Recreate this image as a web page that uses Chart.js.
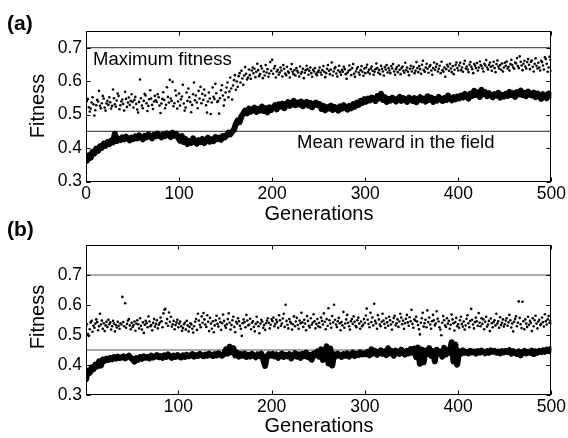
<!DOCTYPE html>
<html>
<head>
<meta charset="utf-8">
<script src="https://cdn.jsdelivr.net/npm/chart.js@4.4.1/dist/chart.umd.min.js"></script>
<style>
  html, body { margin: 0; padding: 0; background: #fff; }
  #wrap { position: relative; width: 568px; height: 438px; overflow: hidden; }
  canvas { position: absolute; left: 0; }
</style>
</head>
<body>
<div id="wrap">
  <canvas id="chartA" width="568" height="232" style="top:0"></canvas>
  <canvas id="chartB" width="568" height="219" style="top:219px"></canvas>
</div>
<script>
// tick labels
const xTicksA = [0, 100, 200, 300, 400, 500];
const xTicksB = [100, 200, 300, 400, 500];
const yTicks = [0.3, 0.4, 0.5, 0.6, 0.7];

// reference levels
const maxFitnessLevel = 0.7;
const meanRewardLevel = 0.45;

// (a) best individual per generation, generations 1..500
const maxFitA = [
  0.541, 0.547, 0.522, 0.509, 0.518, 0.536, 0.552, 0.531, 0.497, 0.513, 0.528, 0.544, 0.539, 0.571, 0.526, 0.519, 0.534, 0.556, 0.548, 0.521, 0.512, 0.533, 0.541, 0.529, 0.552,
  0.537, 0.518, 0.526, 0.575, 0.549, 0.531, 0.524, 0.542, 0.563, 0.556, 0.516, 0.528, 0.539, 0.545, 0.532, 0.512, 0.568, 0.547, 0.523, 0.536, 0.551, 0.529, 0.541, 0.561, 0.538,
  0.521, 0.544, 0.553, 0.532, 0.515, 0.506, 0.538, 0.605, 0.549, 0.527, 0.519, 0.541, 0.562, 0.557, 0.534, 0.511, 0.526, 0.546, 0.573, 0.548, 0.529, 0.517, 0.539, 0.556, 0.543,
  0.538, 0.561, 0.552, 0.527, 0.505, 0.533, 0.547, 0.567, 0.544, 0.519, 0.529, 0.582, 0.553, 0.536, 0.604, 0.548, 0.541, 0.598, 0.525, 0.534, 0.572, 0.557, 0.518, 0.539, 0.563,
  0.527, 0.546, 0.554, 0.589, 0.533, 0.512, 0.521, 0.566, 0.541, 0.578, 0.552, 0.538, 0.507, 0.529, 0.561, 0.596, 0.543, 0.557, 0.536, 0.519, 0.571, 0.548, 0.583, 0.534, 0.562,
  0.544, 0.575, 0.557, 0.528, 0.506, 0.539, 0.566, 0.548, 0.502, 0.536, 0.581, 0.553, 0.547, 0.592, 0.564, 0.538, 0.541, 0.503, 0.549, 0.573, 0.588, 0.557, 0.527, 0.544, 0.566,
  0.581, 0.596, 0.552, 0.569, 0.611, 0.578, 0.545, 0.587, 0.603, 0.618, 0.574, 0.599, 0.583, 0.615, 0.624, 0.596, 0.631, 0.608, 0.589, 0.617, 0.642, 0.622, 0.605, 0.611, 0.635,
  0.618, 0.607, 0.632, 0.641, 0.624, 0.637, 0.612, 0.628, 0.652, 0.633, 0.615, 0.621, 0.645, 0.638, 0.609, 0.629, 0.617, 0.648, 0.626, 0.636, 0.613, 0.623, 0.657, 0.631, 0.664,
  0.622, 0.638, 0.645, 0.611, 0.629, 0.634, 0.619, 0.626, 0.641, 0.632, 0.614, 0.648, 0.637, 0.623, 0.618, 0.643, 0.629, 0.625, 0.611, 0.636, 0.651, 0.628, 0.621, 0.633, 0.617,
  0.639, 0.631, 0.626, 0.614, 0.644, 0.622, 0.628, 0.637, 0.609, 0.625, 0.633, 0.646, 0.636, 0.619, 0.631, 0.641, 0.624, 0.613, 0.634, 0.629, 0.639, 0.622, 0.618, 0.627, 0.632,
  0.641, 0.626, 0.619, 0.633, 0.645, 0.628, 0.612, 0.624, 0.637, 0.648, 0.631, 0.621, 0.635, 0.656, 0.617, 0.629, 0.638, 0.642, 0.623, 0.614, 0.632, 0.646, 0.627, 0.619, 0.634,
  0.628, 0.643, 0.636, 0.621, 0.607, 0.625, 0.631, 0.647, 0.634, 0.618, 0.639, 0.651, 0.622, 0.613, 0.629, 0.637, 0.642, 0.626, 0.619, 0.633, 0.645, 0.628, 0.616, 0.638, 0.624,
  0.641, 0.649, 0.627, 0.634, 0.622, 0.638, 0.644, 0.631, 0.619, 0.628, 0.636, 0.653, 0.639, 0.625, 0.633, 0.621, 0.646, 0.637, 0.629, 0.617, 0.642, 0.635, 0.648, 0.626, 0.639,
  0.632, 0.624, 0.645, 0.638, 0.651, 0.629, 0.619, 0.636, 0.642, 0.627, 0.647, 0.634, 0.621, 0.639, 0.644, 0.631, 0.625, 0.655, 0.633, 0.641, 0.628, 0.618, 0.637, 0.646, 0.629,
  0.638, 0.643, 0.624, 0.631, 0.657, 0.639, 0.627, 0.645, 0.636, 0.622, 0.649, 0.661, 0.633, 0.628, 0.641, 0.652, 0.637, 0.625, 0.644, 0.648, 0.632, 0.619, 0.639, 0.656, 0.634,
  0.643, 0.651, 0.629, 0.637, 0.646, 0.624, 0.658, 0.633, 0.628, 0.641, 0.613, 0.636, 0.649, 0.644, 0.631, 0.652, 0.638, 0.627, 0.645, 0.621, 0.634, 0.648, 0.656, 0.639, 0.632,
  0.647, 0.655, 0.633, 0.641, 0.628, 0.652, 0.661, 0.638, 0.644, 0.635, 0.627, 0.649, 0.657, 0.643, 0.636, 0.624, 0.651, 0.646, 0.639, 0.654, 0.632, 0.641, 0.659, 0.648, 0.645,
  0.638, 0.629, 0.652, 0.647, 0.663, 0.641, 0.635, 0.649, 0.656, 0.643, 0.631, 0.646, 0.658, 0.639, 0.627, 0.651, 0.662, 0.644, 0.637, 0.648, 0.634, 0.653, 0.629, 0.641, 0.655,
  0.646, 0.659, 0.638, 0.643, 0.632, 0.651, 0.664, 0.648, 0.641, 0.637, 0.656, 0.653, 0.669, 0.645, 0.639, 0.674, 0.658, 0.647, 0.633, 0.652, 0.661, 0.644, 0.638, 0.657, 0.666,
  0.649, 0.636, 0.658, 0.662, 0.643, 0.629, 0.652, 0.668, 0.646, 0.638, 0.655, 0.641, 0.632, 0.661, 0.657, 0.647, 0.635, 0.671, 0.666, 0.652, 0.628, 0.641, 0.673, 0.664, 0.631
];

// (a) population mean, generations 1,3,5..499
const meanA = [
  0.362, 0.378, 0.371, 0.389, 0.384, 0.398, 0.392, 0.405, 0.401, 0.413, 0.407, 0.418, 0.412, 0.422, 0.417, 0.443, 0.421, 0.428, 0.424, 0.432, 0.426, 0.434, 0.429, 0.423, 0.431,
  0.427, 0.435, 0.429, 0.438, 0.431, 0.426, 0.436, 0.432, 0.441, 0.434, 0.429, 0.439, 0.435, 0.443, 0.437, 0.432, 0.441, 0.436, 0.444, 0.438, 0.433, 0.446, 0.437, 0.442, 0.431,
  0.422, 0.436, 0.418, 0.427, 0.412, 0.421, 0.416, 0.429, 0.419, 0.413, 0.424, 0.418, 0.427, 0.415, 0.422, 0.431, 0.419, 0.426, 0.421, 0.433, 0.427, 0.431, 0.425, 0.436, 0.432,
  0.438, 0.446, 0.441, 0.449, 0.455, 0.472, 0.483, 0.478, 0.495, 0.503, 0.512, 0.504, 0.518, 0.509, 0.515, 0.521, 0.508, 0.517, 0.512, 0.524, 0.511, 0.519, 0.507, 0.522, 0.514,
  0.521, 0.528, 0.516, 0.531, 0.524, 0.533, 0.519, 0.529, 0.537, 0.526, 0.534, 0.541, 0.528, 0.536, 0.531, 0.539, 0.525, 0.533, 0.538, 0.527, 0.535, 0.522, 0.531, 0.536, 0.528,
  0.531, 0.517, 0.526, 0.513, 0.522, 0.518, 0.527, 0.514, 0.523, 0.519, 0.512, 0.525, 0.518, 0.528, 0.521, 0.515, 0.526, 0.519, 0.531, 0.524, 0.536, 0.529, 0.541, 0.535, 0.546,
  0.539, 0.548, 0.543, 0.551, 0.546, 0.541, 0.555, 0.549, 0.562, 0.544, 0.552, 0.538, 0.547, 0.542, 0.551, 0.545, 0.539, 0.548, 0.553, 0.541, 0.549, 0.544, 0.538, 0.551, 0.546,
  0.541, 0.549, 0.537, 0.546, 0.552, 0.543, 0.548, 0.539, 0.555, 0.544, 0.551, 0.538, 0.547, 0.542, 0.553, 0.546, 0.541, 0.549, 0.544, 0.557, 0.548, 0.543, 0.552, 0.546, 0.554,
  0.549, 0.557, 0.551, 0.562, 0.555, 0.548, 0.563, 0.556, 0.571, 0.559, 0.566, 0.553, 0.574, 0.561, 0.567, 0.555, 0.564, 0.558, 0.552, 0.561, 0.557, 0.565, 0.551, 0.559, 0.554,
  0.562, 0.556, 0.568, 0.559, 0.564, 0.553, 0.567, 0.561, 0.572, 0.558, 0.565, 0.555, 0.569, 0.561, 0.557, 0.566, 0.552, 0.563, 0.558, 0.547, 0.561, 0.556, 0.549, 0.563, 0.557
];

// (b) best individual per generation, generations 1..500
const maxFitB = [
  0.528, 0.536, 0.503, 0.497, 0.519, 0.542, 0.547, 0.511, 0.531, 0.524, 0.538, 0.552, 0.543, 0.516, 0.529, 0.571, 0.535, 0.548, 0.521, 0.539, 0.513, 0.532, 0.544, 0.527, 0.551,
  0.536, 0.542, 0.518, 0.529, 0.547, 0.538, 0.512, 0.533, 0.525, 0.544, 0.531, 0.521, 0.539, 0.535, 0.627, 0.543, 0.529, 0.606, 0.524, 0.537, 0.548, 0.553, 0.532, 0.519, 0.541,
  0.527, 0.533, 0.545, 0.514, 0.538, 0.549, 0.536, 0.522, 0.556, 0.531, 0.518, 0.542, 0.507, 0.534, 0.547, 0.539, 0.526, 0.562, 0.545, 0.529, 0.533, 0.516, 0.541, 0.553, 0.528,
  0.537, 0.549, 0.522, 0.534, 0.541, 0.558, 0.546, 0.526, 0.572, 0.584, 0.587, 0.539, 0.553, 0.531, 0.575, 0.544, 0.561, 0.528, 0.536, 0.547, 0.519, 0.533, 0.542, 0.551, 0.526,
  0.538, 0.545, 0.529, 0.514, 0.523, 0.536, 0.541, 0.518, 0.547, 0.532, 0.512, 0.527, 0.539, 0.535, 0.521, 0.508, 0.529, 0.544, 0.553, 0.517, 0.571, 0.548, 0.534, 0.526, 0.562,
  0.541, 0.573, 0.552, 0.535, 0.527, 0.566, 0.544, 0.513, 0.557, 0.538, 0.521, 0.546, 0.509, 0.532, 0.549, 0.564, 0.537, 0.528, 0.555, 0.543, 0.517, 0.539, 0.568, 0.547, 0.531,
  0.524, 0.536, 0.553, 0.572, 0.541, 0.518, 0.533, 0.549, 0.561, 0.527, 0.509, 0.544, 0.538, 0.556, 0.546, 0.531, 0.521, 0.497, 0.539, 0.552, 0.543, 0.526, 0.567, 0.548, 0.532,
  0.535, 0.554, 0.519, 0.541, 0.546, 0.527, 0.512, 0.537, 0.561, 0.543, 0.529, 0.506, 0.538, 0.551, 0.545, 0.524, 0.533, 0.517, 0.539, 0.548, 0.556, 0.541, 0.522, 0.534, 0.552,
  0.546, 0.558, 0.529, 0.537, 0.551, 0.543, 0.524, 0.566, 0.549, 0.531, 0.538, 0.555, 0.571, 0.527, 0.601, 0.547, 0.534, 0.522, 0.553, 0.544, 0.539, 0.518, 0.536, 0.562, 0.529,
  0.545, 0.557, 0.533, 0.521, 0.548, 0.539, 0.574, 0.542, 0.527, 0.551, 0.538, 0.516, 0.563, 0.547, 0.531, 0.525, 0.556, 0.534, 0.541, 0.569, 0.546, 0.522, 0.537, 0.553, 0.529,
  0.541, 0.526, 0.558, 0.547, 0.535, 0.572, 0.544, 0.519, 0.553, 0.531, 0.589, 0.549, 0.538, 0.524, 0.563, 0.542, 0.601, 0.551, 0.535, 0.527, 0.546, 0.557, 0.539, 0.516, 0.543,
  0.532, 0.577, 0.524, 0.538, 0.552, 0.567, 0.541, 0.529, 0.518, 0.546, 0.553, 0.537, 0.562, 0.544, 0.531, 0.526, 0.549, 0.558, 0.538, 0.521, 0.545, 0.529, 0.534, 0.553, 0.541,
  0.565, 0.588, 0.551, 0.537, 0.526, 0.574, 0.543, 0.558, 0.532, 0.604, 0.547, 0.539, 0.521, 0.566, 0.552, 0.535, 0.529, 0.544, 0.571, 0.548, 0.537, 0.524, 0.556, 0.542, 0.531,
  0.561, 0.549, 0.535, 0.518, 0.543, 0.557, 0.564, 0.532, 0.539, 0.552, 0.527, 0.545, 0.571, 0.558, 0.536, 0.548, 0.521, 0.539, 0.554, 0.567, 0.542, 0.531, 0.559, 0.546, 0.584,
  0.537, 0.524, 0.552, 0.548, 0.561, 0.545, 0.533, 0.519, 0.502, 0.541, 0.556, 0.574, 0.528, 0.539, 0.551, 0.526, 0.582, 0.543, 0.558, 0.535, 0.521, 0.546, 0.567, 0.549, 0.532,
  0.538, 0.579, 0.554, 0.545, 0.526, 0.518, 0.499, 0.541, 0.563, 0.549, 0.532, 0.527, 0.556, 0.538, 0.547, 0.521, 0.534, 0.568, 0.552, 0.539, 0.515, 0.543, 0.557, 0.529, 0.536,
  0.524, 0.549, 0.561, 0.537, 0.528, 0.545, 0.518, 0.532, 0.554, 0.566, 0.539, 0.526, 0.547, 0.587, 0.551, 0.535, 0.522, 0.543, 0.558, 0.546, 0.531, 0.573, 0.541, 0.529, 0.556,
  0.537, 0.552, 0.519, 0.544, 0.561, 0.528, 0.535, 0.547, 0.513, 0.555, 0.539, 0.526, 0.543, 0.549, 0.532, 0.571, 0.538, 0.546, 0.524, 0.559, 0.533, 0.541, 0.552, 0.528, 0.536,
  0.548, 0.556, 0.531, 0.542, 0.567, 0.549, 0.525, 0.538, 0.512, 0.544, 0.553, 0.562, 0.529, 0.541, 0.612, 0.557, 0.536, 0.523, 0.611, 0.546, 0.519, 0.552, 0.538, 0.527, 0.561,
  0.534, 0.547, 0.541, 0.513, 0.556, 0.529, 0.549, 0.564, 0.538, 0.522, 0.545, 0.551, 0.533, 0.537, 0.558, 0.543, 0.528, 0.569, 0.546, 0.535, 0.552, 0.563, 0.541, 0.548, 0.539
];

// (b) population mean, generations 1,3,5..499
const meanB = [
  0.352, 0.381, 0.374, 0.392, 0.386, 0.401, 0.395, 0.412, 0.398, 0.418, 0.414, 0.421, 0.417, 0.424, 0.419, 0.426, 0.421, 0.428, 0.423, 0.425, 0.429, 0.422, 0.427, 0.431, 0.424,
  0.419, 0.411, 0.423, 0.418, 0.426, 0.421, 0.429, 0.424, 0.427, 0.422, 0.431, 0.425, 0.428, 0.433, 0.426, 0.430, 0.424, 0.432, 0.427, 0.435, 0.429, 0.424, 0.431, 0.427, 0.433,
  0.428, 0.425, 0.432, 0.427, 0.434, 0.429, 0.431, 0.436, 0.428, 0.433, 0.430, 0.437, 0.432, 0.429, 0.435, 0.431, 0.438, 0.433, 0.430, 0.436, 0.432, 0.439, 0.434, 0.431, 0.437,
  0.452, 0.438, 0.461, 0.443, 0.456, 0.432, 0.441, 0.428, 0.436, 0.431, 0.438, 0.427, 0.434, 0.429, 0.437, 0.431, 0.426, 0.435, 0.430, 0.438, 0.418, 0.397, 0.429, 0.436, 0.431,
  0.437, 0.429, 0.435, 0.424, 0.433, 0.438, 0.427, 0.434, 0.429, 0.436, 0.422, 0.433, 0.439, 0.428, 0.435, 0.424, 0.437, 0.430, 0.441, 0.426, 0.434, 0.418, 0.438, 0.432, 0.445,
  0.428, 0.452, 0.417, 0.441, 0.462, 0.405, 0.455, 0.398, 0.436, 0.429, 0.438, 0.432, 0.427, 0.436, 0.431, 0.439, 0.428, 0.434, 0.441, 0.430, 0.437, 0.433, 0.442, 0.435, 0.439,
  0.436, 0.444, 0.432, 0.452, 0.438, 0.447, 0.434, 0.441, 0.449, 0.437, 0.445, 0.433, 0.456, 0.439, 0.446, 0.431, 0.448, 0.442, 0.437, 0.451, 0.441, 0.435, 0.447, 0.439, 0.453,
  0.441, 0.455, 0.426, 0.458, 0.404, 0.452, 0.409, 0.448, 0.437, 0.456, 0.431, 0.446, 0.412, 0.451, 0.439, 0.444, 0.428, 0.457, 0.435, 0.449, 0.441, 0.476, 0.412, 0.468, 0.401,
  0.446, 0.437, 0.449, 0.441, 0.444, 0.439, 0.447, 0.442, 0.445, 0.438, 0.446, 0.441, 0.448, 0.443, 0.439, 0.446, 0.441, 0.449, 0.444, 0.447, 0.441, 0.445, 0.439, 0.446, 0.442,
  0.447, 0.443, 0.449, 0.438, 0.446, 0.441, 0.437, 0.445, 0.432, 0.443, 0.447, 0.439, 0.444, 0.441, 0.448, 0.436, 0.445, 0.441, 0.447, 0.443, 0.449, 0.444, 0.451, 0.446, 0.453
];

const FONT = "'Liberation Sans', Arial, Helvetica, sans-serif";
Chart.defaults.font.family = FONT;
Chart.defaults.color = '#000';

// frame, inward tick marks and free text
const decor = {
  id: 'decor',
  afterDraw(chart, args, opts) {
    const { ctx, chartArea: a, scales: { x, y } } = chart;
    ctx.save();
    ctx.strokeStyle = '#000';
    ctx.lineWidth = 1;
    const L = Math.round(a.left) + 0.5, R = Math.round(a.right) - 0.5;
    const T = Math.round(a.top) + 0.5, B = Math.round(a.bottom) - 0.5;
    ctx.strokeRect(L, T, R - L, B - T);
    ctx.beginPath();
    x.ticks.forEach(t => {
      const px = Math.round(x.getPixelForValue(t.value)) + 0.5;
      ctx.moveTo(px, T); ctx.lineTo(px, T + 4);
      ctx.moveTo(px, B); ctx.lineTo(px, B - 4);
    });
    y.ticks.forEach(t => {
      const py = Math.round(y.getPixelForValue(t.value)) + 0.5;
      ctx.moveTo(L, py); ctx.lineTo(L + 4, py);
      ctx.moveTo(R, py); ctx.lineTo(R - 4, py);
    });
    ctx.stroke();
    ctx.fillStyle = '#000';
    (opts.texts || []).forEach(t => {
      ctx.save();
      ctx.font = t.font;
      ctx.textAlign = t.align || 'left';
      ctx.textBaseline = t.baseline || 'alphabetic';
      ctx.translate(t.x, t.y);
      if (t.rot) ctx.rotate(t.rot);
      ctx.fillText(t.text, 0, 0);
      ctx.restore();
    });
    ctx.restore();
  }
};

function makePanel(id, opt) {
  const area = opt.area;
  const canvas = document.getElementById(id);
  new Chart(canvas, {
    type: 'line',
    data: {
      datasets: [
        {
          data: opt.mean.map((v, i) => ({ x: 2 * i + 1, y: v })),
          borderColor: '#000', borderWidth: 6, pointRadius: 0, tension: 0,
          borderJoinStyle: 'round', borderCapStyle: 'round'
        },
        {
          data: opt.best.map((v, i) => ({ x: i + 1, y: v })),
          showLine: false, pointRadius: 1.3, pointBorderWidth: 0,
          pointBackgroundColor: '#000', borderColor: '#000'
        },
        {
          data: [{ x: opt.xMin, y: maxFitnessLevel }, { x: 500, y: maxFitnessLevel }],
          borderColor: '#555', borderWidth: 1.2, pointRadius: 0
        },
        {
          data: [{ x: opt.xMin, y: meanRewardLevel }, { x: 500, y: meanRewardLevel }],
          borderColor: '#555', borderWidth: 1.2, pointRadius: 0
        }
      ]
    },
    options: {
      responsive: false,
      animation: false,
      devicePixelRatio: 1,
      layout: { padding: { left: 0, top: area.top, right: 568 - area.right, bottom: 0 } },
      plugins: {
        legend: { display: false },
        tooltip: { enabled: false },
        decor: { texts: opt.texts }
      },
      scales: {
        x: {
          type: 'linear', min: opt.xMin, max: 500,
          grid: { display: false, drawTicks: false },
          border: { display: false },
          afterBuildTicks: s => { s.ticks = opt.xTicks.map(v => ({ value: v })); },
          afterFit: s => { s.height = canvas.height - area.bottom; },
          ticks: { font: { size: 17.5 }, padding: opt.xPad, maxRotation: 0, callback: v => String(v) }
        },
        y: {
          type: 'linear', min: 0.3, max: opt.yMax,
          grid: { display: false, drawTicks: false },
          border: { display: false },
          afterBuildTicks: s => { s.ticks = yTicks.map(v => ({ value: v })); },
          afterFit: s => { s.width = area.left; },
          ticks: { font: { size: 17.5 }, padding: 4, callback: v => v.toFixed(1) }
        }
      }
    },
    plugins: [decor]
  });
}

makePanel('chartA', {
  area: { left: 86, right: 552, top: 31, bottom: 181.5 },
  xMin: 0, yMax: 0.75, xTicks: xTicksA, xPad: 2,
  mean: meanA, best: maxFitA,
  texts: [
    { text: '(a)', x: 7, y: 30, font: 'bold 21px ' + FONT },
    { text: 'Fitness', x: 38, y: 106, font: '20px ' + FONT, align: 'center', baseline: 'middle', rot: -Math.PI / 2 },
    { text: 'Generations', x: 319, y: 220, font: '20px ' + FONT, align: 'center' },
    { text: 'Maximum fitness', x: 93, y: 65, font: '18.5px ' + FONT },
    { text: 'Mean reward in the field', x: 297, y: 148, font: '18.5px ' + FONT }
  ]
});

makePanel('chartB', {
  area: { left: 86, right: 552, top: 26, bottom: 176 },
  xMin: 1, yMax: 0.8, xTicks: xTicksB, xPad: 2,
  mean: meanB, best: maxFitB,
  texts: [
    { text: '(b)', x: 7, y: 17, font: 'bold 21px ' + FONT },
    { text: 'Fitness', x: 38, y: 98, font: '20px ' + FONT, align: 'center', baseline: 'middle', rot: -Math.PI / 2 },
    { text: 'Generations', x: 319, y: 213, font: '20px ' + FONT, align: 'center' }
  ]
});
</script>
</body>
</html>
